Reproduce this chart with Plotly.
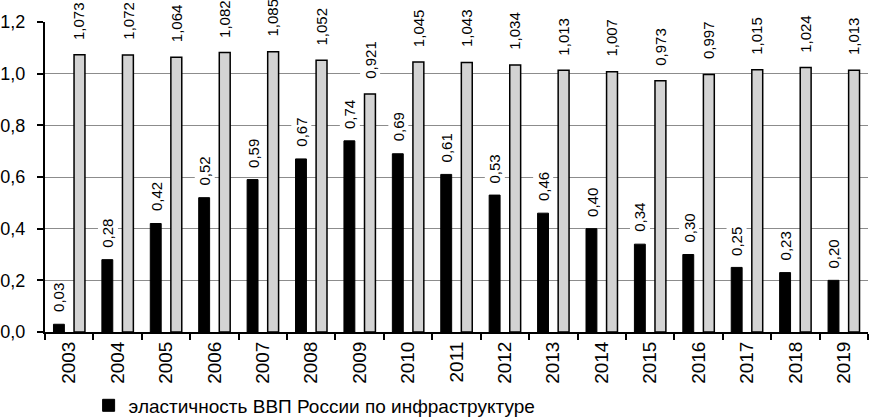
import plotly.graph_objects as go

years = [str(y) for y in range(2003, 2020)]
elasticity = [0.03, 0.28, 0.42, 0.52, 0.59, 0.67, 0.74, 0.69, 0.61, 0.53, 0.46, 0.40, 0.34, 0.30, 0.25, 0.23, 0.20]
second = [1.073, 1.072, 1.064, 1.082, 1.085, 1.052, 0.921, 1.045, 1.043, 1.034, 1.013, 1.007, 0.973, 0.997, 1.015, 1.024, 1.013]
legend_name = "эластичность ВВП России по инфраструктуре"
y_ticks = [0.0, 0.2, 0.4, 0.6, 0.8, 1.0, 1.2]
y_labels = ["0,0", "0,2", "0,4", "0,6", "0,8", "1,0", "1,2"]

FONT = "Arial, 'Liberation Sans', sans-serif"

fig = go.Figure()
fig.add_trace(go.Bar(
    x=years, y=elasticity, name=legend_name,
    marker=dict(color="black", line=dict(color="black", width=1)),
    showlegend=True,
))
fig.add_trace(go.Bar(
    x=years, y=second, name="",
    marker=dict(color="#d3d3d3", line=dict(color="black", width=1.5)),
    showlegend=False,
))

annotations = []
for i, v in enumerate(elasticity):
    annotations.append(dict(
        x=i, y=v, xref="x", yref="y", xshift=-10, yshift=10,
        text=f"{v:.2f}".replace(".", ","), textangle=-90, showarrow=False,
        xanchor="center", yanchor="bottom", bgcolor="white", borderpad=1,
        font=dict(family=FONT, size=15, color="black"),
    ))
for i, v in enumerate(second):
    annotations.append(dict(
        x=i, y=v, xref="x", yref="y", xshift=10, yshift=13,
        text=f"{v:.3f}".replace(".", ","), textangle=-90, showarrow=False,
        xanchor="center", yanchor="bottom", bgcolor="white", borderpad=1,
        font=dict(family=FONT, size=15, color="black"),
    ))

fig.update_layout(
    width=870, height=418,
    margin=dict(l=45, r=2, t=22, b=86, autoexpand=False),
    paper_bgcolor="white", plot_bgcolor="white",
    barmode="group", bargap=0.15, bargroupgap=0.47,
    font=dict(family=FONT, color="black"),
    annotations=annotations,
    legend=dict(orientation="h", x=0.053, xanchor="left",
                yref="container", y=0.03, yanchor="middle",
                font=dict(family=FONT, size=19, color="black"),
                itemwidth=30, bgcolor="rgba(0,0,0,0)"),
    xaxis=dict(
        type="category", range=[-0.5, len(years) - 0.5], automargin=False,
        showline=True, linecolor="black", linewidth=2,
        ticks="outside", tickson="boundaries", ticklen=6, tickcolor="black", tickwidth=2,
        tickangle=-90, tickfont=dict(family=FONT, size=19, color="black"),
        showgrid=False,
    ),
    yaxis=dict(
        range=[0, 1.2], tickvals=y_ticks, ticktext=y_labels, automargin=False,
        showline=True, linecolor="black", linewidth=2,
        ticks="outside", ticklen=6, tickcolor="black", tickwidth=2, ticklabelstandoff=8,
        tickfont=dict(family=FONT, size=18, color="black"),
        showgrid=True, gridcolor="#8c8c8c", gridwidth=1, zeroline=False,
    ),
)

fig.write_html(
    "out.html",
    config={"displayModeBar": False},
    post_script="document.body.style.margin='0';document.body.style.overflow='hidden';",
)
